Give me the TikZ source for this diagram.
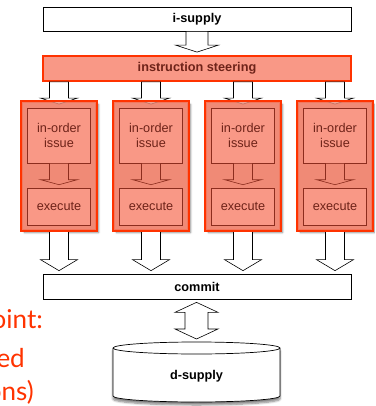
\documentclass[tikz,border=0pt]{standalone}
\usepackage{fontspec}
\setmainfont{Liberation Sans}
\newfontfamily\slidefont{Lato}
\usetikzlibrary{calc,shadows.blur}

\definecolor{hotred}{RGB}{255,51,0}
\definecolor{laneface}{RGB}{240,138,118}
\definecolor{stageface}{RGB}{249,152,134}
\definecolor{stageline}{RGB}{140,45,30}
\definecolor{stagetext}{RGB}{110,35,25}

\tikzset{
  plainbox/.style={draw=black, line width=0.7pt, fill=white, minimum width=308pt,
    inner sep=0pt, font=\bfseries\fontsize{12.7}{15}\selectfont},
  steerbox/.style={draw=hotred, line width=1.8pt, fill=stageface, minimum width=308pt,
    minimum height=25pt, inner sep=0pt, text=stagetext,
    font=\bfseries\fontsize{12.7}{15}\selectfont},
  lane/.style={draw=hotred, line width=1.8pt, fill=laneface, minimum width=74pt,
    minimum height=128pt, inner sep=0pt,
    blur shadow={shadow xshift=2.5pt, shadow yshift=-2.5pt, shadow blur steps=6, shadow opacity=45}},
  laneborder/.style={draw=hotred, line width=1.8pt},
  stagebox/.style={draw=stageline, line width=0.6pt, fill=stageface, minimum width=63pt,
    inner sep=0pt, align=center, text=stagetext, font=\fontsize{12.7}{15}\selectfont},
  blockarrow/.style={draw=black, line width=0.6pt, fill=white, line join=miter},
  lanearrow/.style={blockarrow, draw=stageline, fill=laneface},
  slidetext/.style={text=hotred, font=\slidefont\fontsize{26}{30}\selectfont,
    inner sep=0pt, anchor=base east},
}

% downward block arrow: #1 style, #2 start, #3 tip, #4 head length, #5 half shaft, #6 half head
\newcommand\blockdown[6][blockarrow]{%
  \draw[#1] let \p1=(#2), \p2=(#3) in
    (\x2-#5pt,\y1) -- (\x2-#5pt,\y2+#4pt) -- (\x2-#6pt,\y2+#4pt) -- (\x2,\y2)
    -- (\x2+#6pt,\y2+#4pt) -- (\x2+#5pt,\y2+#4pt) -- (\x2+#5pt,\y1) -- cycle;}

\begin{document}
\begin{tikzpicture}[x=1pt,y=-1pt]
\useasboundingbox (0,0) rectangle (375,406);
\clip (0,0) rectangle (375,406);

% slide text running in from the left
\node[slidetext] (pt) at (43,328) {point:};
\node[slidetext] (ed) at (25,367) {ed};
\node[slidetext] (ons) at (34,400) {ons)};

% supply, steering and commit bars
\node[plainbox, minimum height=24pt] (isup) at (197,19) {i-supply};
\node[steerbox] (steer) at (197,68.5) {instruction steering};
\node[plainbox, minimum height=25pt] (commit) at (197,286.5) {commit};

\blockdown{isup.south}{$(steer.north)+(0,-3)$}{7}{11}{21.5}

% the four lanes
\foreach \i/\x in {1/59,2/151,3/243,4/335}{
  \node[lane] (lane\i) at (\x,166) {};
}
\foreach \i in {1,...,4}{
  \blockdown{lane\i.north |- steer.south}{$(lane\i.north)+(0,3)$}{6}{9.5}{18.5}
  \blockdown{lane\i.south}{$(lane\i.south |- commit.north)+(0,-3)$}{11}{9.5}{18.5}
  \fill[laneface, fill opacity=0.8] (lane\i.south west) rectangle (lane\i.north east);
  \draw[laneborder] (lane\i.south west) rectangle (lane\i.north east);
}
\foreach \i/\x in {1/59,2/151,3/243,4/335}{
  \node[stagebox, minimum height=55pt] (issue\i) at (\x,135.5) {in-order\\issue};
  \node[stagebox, minimum height=37pt] (exec\i) at (\x,206.5) {execute};
  \blockdown[lanearrow]{issue\i.south}{$(exec\i.north)+(0,-3)$}{5}{9.5}{18.5}
}

% data supply drum
\coordinate (dstop) at (196.5,342);
\filldraw[fill=white, draw=black, line width=0.7pt,
    blur shadow={shadow xshift=0pt, shadow yshift=-3pt, shadow blur steps=6, shadow opacity=50}]
  (113,348) -- (113,396) arc[start angle=180, end angle=0, x radius=83.5, y radius=6]
  -- (280,348) arc[start angle=0, end angle=-180, x radius=83.5, y radius=6] -- cycle;
\draw[line width=0.7pt] (113,348) arc[start angle=180, end angle=0, x radius=83.5, y radius=6];
\node[font=\bfseries\fontsize{12.7}{15}\selectfont, inner sep=0pt] (dsup) at (196.5,376) {d-supply};

% two-way arrow between commit and the data supply
\draw[blockarrow] let \p1=(commit.south), \p2=(dstop) in
  (\x2,\y1-3pt) -- (\x2+21.5pt,\y1-13pt) -- (\x2+11.5pt,\y1-13pt)
  -- (\x2+11.5pt,\y2+13pt) -- (\x2+21.5pt,\y2+13pt) -- (\x2,\y2+3pt)
  -- (\x2-21.5pt,\y2+13pt) -- (\x2-11.5pt,\y2+13pt) -- (\x2-11.5pt,\y1-13pt)
  -- (\x2-21.5pt,\y1-13pt) -- cycle;
\end{tikzpicture}
\end{document}
